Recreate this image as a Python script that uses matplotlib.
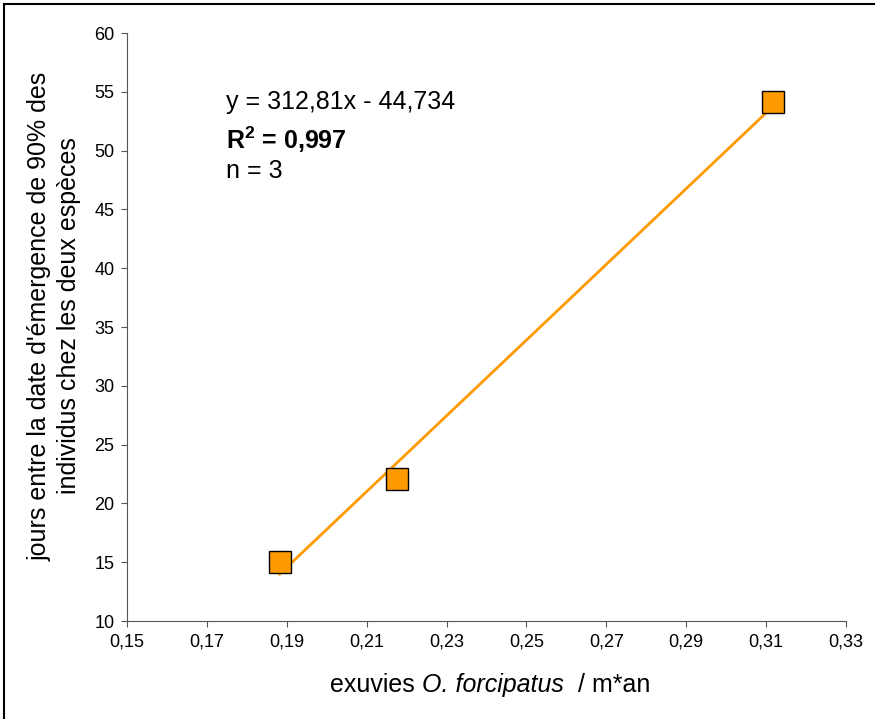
import numpy as np
import matplotlib
matplotlib.use("Agg")
import matplotlib.pyplot as plt
from matplotlib.patches import Rectangle

plt.rcParams['font.family'] = ['Liberation Sans', 'DejaVu Sans']
plt.rcParams['mathtext.fontset'] = 'custom'
plt.rcParams['mathtext.rm'] = 'Liberation Sans'
plt.rcParams['mathtext.it'] = 'Liberation Sans:italic'
plt.rcParams['mathtext.bf'] = 'Liberation Sans:bold'

# data
exuvies = [0.1882, 0.2175, 0.3118]
jours = [15.0, 22.1, 54.1]
x_ticks = [0.15, 0.17, 0.19, 0.21, 0.23, 0.25, 0.27, 0.29, 0.31, 0.33]
y_ticks = [10, 15, 20, 25, 30, 35, 40, 45, 50, 55, 60]

orange = '#FF9900'

fig = plt.figure(figsize=(8.75, 7.19), dpi=100)
ax = fig.add_axes([127/875, 1 - 621/719, 719/875, 588/719])

# trend line
slope, intercept = np.polyfit(exuvies, jours, 1)
xs = np.array([min(exuvies), max(exuvies)])
ax.plot(xs, slope * xs + intercept, color=orange, lw=2, zorder=2)
ax.plot(exuvies, jours, 's', ms=16, mfc=orange, mec='black', mew=1, zorder=3)

ax.set_xlim(0.15, 0.33)
ax.set_ylim(10, 60)
ax.set_xticks(x_ticks)
ax.set_yticks(y_ticks)
ax.set_xticklabels([f"{v:.2f}".replace('.', ',') for v in x_ticks])
ax.set_yticklabels([str(v) for v in y_ticks])
ax.tick_params(labelsize=13, direction='out', length=4, color='#555555', pad=5)
for s in ['top', 'right']:
    ax.spines[s].set_visible(False)
for s in ['left', 'bottom']:
    ax.spines[s].set_color('#555555')

# x label in three pieces (italic species name)
t1 = fig.text(330/875, 1 - 685/719, "exuvies ", fontsize=18, va='center')
t2 = ax.annotate("O. forcipatus", xy=(1, 0), xycoords=t1, va='bottom',
                 fontsize=18, fontstyle='italic')
ax.annotate("  / m*an", xy=(1, 0), xycoords=t2, va='bottom', fontsize=18)

fig.text(54/875, 1 - 316/719,
         "jours entre la date d'émergence de 90% des\nindividus chez les deux espèces",
         fontsize=18, rotation=90, ha='center', va='center',
         multialignment='center', linespacing=1.3)

ax.text(0.1748, 54.1, "y = 312,81x - 44,734", fontsize=18, va='center')
ax.text(0.1748, 50.9, r"$\mathbf{R^{2}}$ = 0,997", fontsize=18, va='center',
        fontweight='bold')
ax.text(0.1748, 48.3, "n = 3", fontsize=18, va='center')

fig.add_artist(Rectangle((4/875, -0.05), 1.1, 1 - 4/719 + 0.05,
                         transform=fig.transFigure, fill=False, lw=1.5, color='black'))

fig.savefig("out.png", dpi=100)
